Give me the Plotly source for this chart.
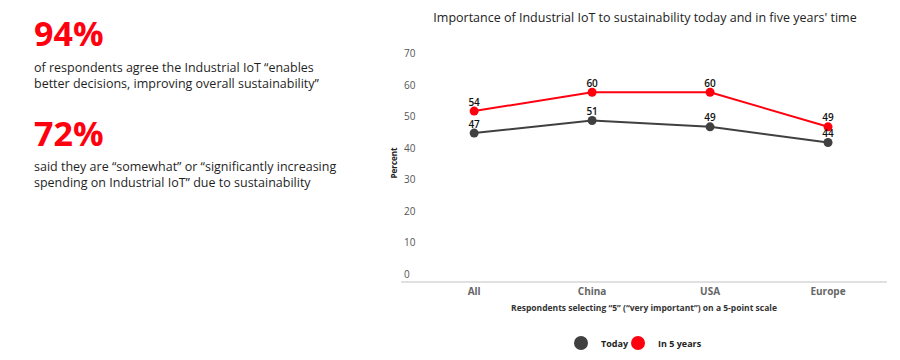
import plotly.graph_objects as go

categories = ["All", "China", "USA", "Europe"]
today = [47, 51, 49, 44]
in_5_years = [54, 60, 60, 49]
y_ticks = [0, 10, 20, 30, 40, 50, 60, 70]

RED = "#ff000f"
DARK = "#404040"
FONT = "Open Sans"

L, R, T, B = 401, 13, 45, 79
PH = 360 - T - B
PW = 900 - L - R

fig = go.Figure()
for name, vals, col in [("Today", today, DARK), ("In 5 years", in_5_years, RED)]:
    fig.add_trace(go.Scatter(
        x=categories, y=vals, name=name, mode="lines+markers",
        line=dict(color=col, width=2), marker=dict(color=col, size=9),
        showlegend=False, cliponaxis=False,
    ))
for vals in [today, in_5_years]:
    fig.add_trace(go.Scatter(
        x=categories, y=vals, mode="markers+text",
        marker=dict(size=3, color="rgba(0,0,0,0)"),
        text=[str(v) for v in vals], textposition="top center",
        textfont=dict(family=FONT, size=10, color="#111111", weight=600),
        showlegend=False, cliponaxis=False, hoverinfo="skip",
    ))
for name, col, lg in [("Today", DARK, "legend"), ("In 5 years", RED, "legend2")]:
    fig.add_trace(go.Scatter(
        x=[None], y=[None], name=name, mode="markers",
        marker=dict(color=col, size=14), showlegend=True, legend=lg,
    ))

legend_common = dict(
    orientation="h", xanchor="left", yref="container", y=1 - 343 / 360, yanchor="middle",
    font=dict(family=FONT, size=9, color="#222222", weight="bold"),
    itemsizing="trace", bgcolor="rgba(0,0,0,0)",
)

fig.update_layout(
    width=900, height=360,
    margin=dict(l=L, r=R, t=T, b=B, autoexpand=False),
    paper_bgcolor="white", plot_bgcolor="white",
    font=dict(family=FONT, color="#333333"),
    title=dict(
        text="Importance of Industrial IoT to sustainability today and in five years' time",
        x=(645 - L) / PW, xref="paper", xanchor="center", y=1 - 18 / 360, yanchor="middle",
        font=dict(family=FONT, size=12.5, color="#222222"),
    ),
    showlegend=True,
    legend=dict(x=(582 - 21 - L) / PW, **legend_common),
    legend2=dict(x=(639 - 21 - L) / PW, **legend_common),
    xaxis=dict(
        type="category", categoryorder="array", categoryarray=categories,
        range=[-0.62, 3.5], showgrid=False, zeroline=False,
        showline=True, linecolor="#e0e0e0", linewidth=2,
        ticks="", tickfont=dict(family=FONT, size=10, color="#666666", weight="bold"),
        automargin=False,
        title=dict(text="Respondents selecting “5” (“very important”) on a 5-point scale",
                   font=dict(family=FONT, size=8.5, color="#333333", weight="bold"),
                   standoff=8),
    ),
    yaxis=dict(
        range=[0, 75], tickvals=y_ticks, showgrid=False, zeroline=False,
        showline=False, ticks="", ticklabelposition="inside top",
        tickfont=dict(family=FONT, size=10, color="#555555"),
        automargin=False,
        title=dict(text="Percent", font=dict(family=FONT, size=8, color="#222222", weight="bold"),
                   standoff=5),
    ),
)

left_texts = [
    ("94%", 33, 34, RED, "bold"),
    ("of respondents agree the Industrial IoT “enables<br>better decisions, improving overall sustainability”", 75, 12.5, "#1f1f1f", "normal"),
    ("72%", 133, 34, RED, "bold"),
    ("said they are “somewhat” or “significantly increasing<br>spending on Industrial IoT” due to sustainability", 174, 12.5, "#1f1f1f", "normal"),
]
for txt, ypx, size, col, w in left_texts:
    fig.add_annotation(
        text=txt, xref="paper", yref="paper",
        x=(32 - L) / PW, y=(360 - B - ypx) / PH, xanchor="left", yanchor="middle",
        align="left", showarrow=False,
        font=dict(family=FONT, size=size, color=col, weight=w),
    )

fig.write_html("out.html", config={"displayModeBar": False},
               post_script="document.body.style.margin='0';")
